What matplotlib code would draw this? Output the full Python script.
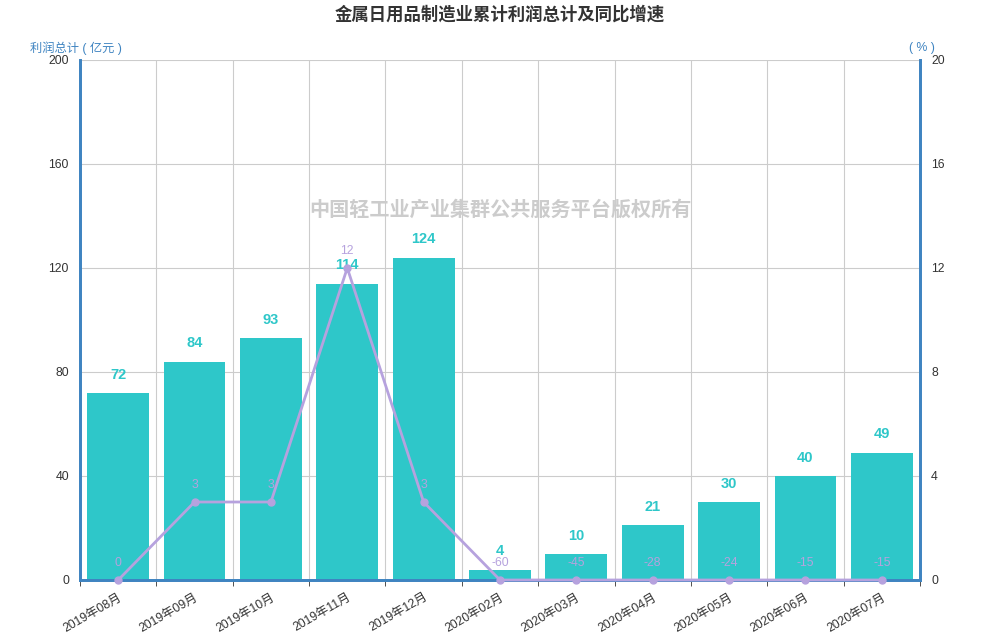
import numpy as np
import matplotlib
matplotlib.use('Agg')
import matplotlib.pyplot as plt

plt.rcParams['font.family'] = ['Liberation Sans', 'Noto Sans CJK SC', 'DejaVu Sans']

# Data
months = ['2019年08月', '2019年09月', '2019年10月', '2019年11月', '2019年12月',
          '2020年02月', '2020年03月', '2020年04月', '2020年05月', '2020年06月',
          '2020年07月']
profit = [72, 84, 93, 114, 124, 4, 10, 21, 30, 40, 49]
growth = [0, 3, 3, 12, 3, -60, -45, -28, -24, -15, -15]

bar_color = '#2ec7c9'
line_color = '#b6a2de'
axis_color = '#3f84c1'
grid_color = '#cccccc'

fig = plt.figure(figsize=(10, 6.4), dpi=100)
ax = fig.add_axes([0.08, 1 - 580 / 640, 0.84, 520 / 640])
ax2 = ax.twinx()

x = np.arange(len(months))

# bars
ax.bar(x, profit, width=0.81, color=bar_color, zorder=2)
for xi, v in zip(x, profit):
    ax.annotate(str(v), (xi, v), xytext=(0, 8), textcoords='offset points',
                ha='center', va='bottom', color=bar_color, fontsize=10.5,
                fontweight='bold', zorder=5)

ax.set_xlim(-0.5, len(months) - 0.5)
ax.set_ylim(0, 200)
ax.set_yticks([0, 40, 80, 120, 160, 200])
ax.set_xticks(x)
ax.set_xticklabels(months, rotation=30, ha='right', rotation_mode='anchor',
                   fontsize=8.8, color='#333333')
ax.tick_params(axis='x', length=0, pad=8)
ax.set_xticks(np.arange(-0.5, len(months)), minor=True)
ax.tick_params(axis='x', which='minor', length=4, color='#333333')
ax.tick_params(axis='y', length=0, labelsize=8.8, labelcolor='#333333', pad=8)
ax.grid(True, which='minor', axis='x', color=grid_color, lw=0.8, zorder=0)
ax.grid(True, which='major', axis='y', color=grid_color, lw=0.8, zorder=0)
ax.set_axisbelow(True)

# line on right axis (values below axis minimum sit on the axis)
ymin2 = 0
shown = np.maximum(np.array(growth, dtype=float), ymin2)
ax2.plot(x, shown, color=line_color, lw=2, marker='o', markersize=5,
         zorder=4, clip_on=False)
for xi, v, s in zip(x, growth, shown):
    ax2.annotate(str(v), (xi, s), xytext=(0, 8), textcoords='offset points',
                 ha='center', va='bottom', color=line_color, fontsize=8.8,
                 zorder=5)
ax2.set_ylim(0, 20)
ax2.set_yticks([0, 4, 8, 12, 16, 20])
ax2.tick_params(axis='y', length=0, labelsize=8.8, labelcolor='#333333', pad=8)

for a in (ax, ax2):
    a.spines['top'].set_visible(False)
    for s in ('left', 'right', 'bottom'):
        a.spines[s].set_color(axis_color)
        a.spines[s].set_linewidth(2)

fig.text(0.5, 1 - 14 / 640, '金属日用品制造业累计利润总计及同比增速', ha='center',
         va='center', fontsize=12.5, fontweight='bold', color='#333333')
fig.text(0.03, 1 - 48 / 640, '利润总计 ( 亿元 )', ha='left', va='center',
         fontsize=8.8, color=axis_color)
fig.text(0.935, 1 - 48 / 640, '( % )', ha='right', va='center',
         fontsize=8.8, color=axis_color)
fig.text(0.5, 1 - 210 / 640, '中国轻工业产业集群公共服务平台版权所有', ha='center',
         va='center', fontsize=14.5, fontweight='bold', color='#cccccc', zorder=10)

fig.savefig('out.png', dpi=100)
